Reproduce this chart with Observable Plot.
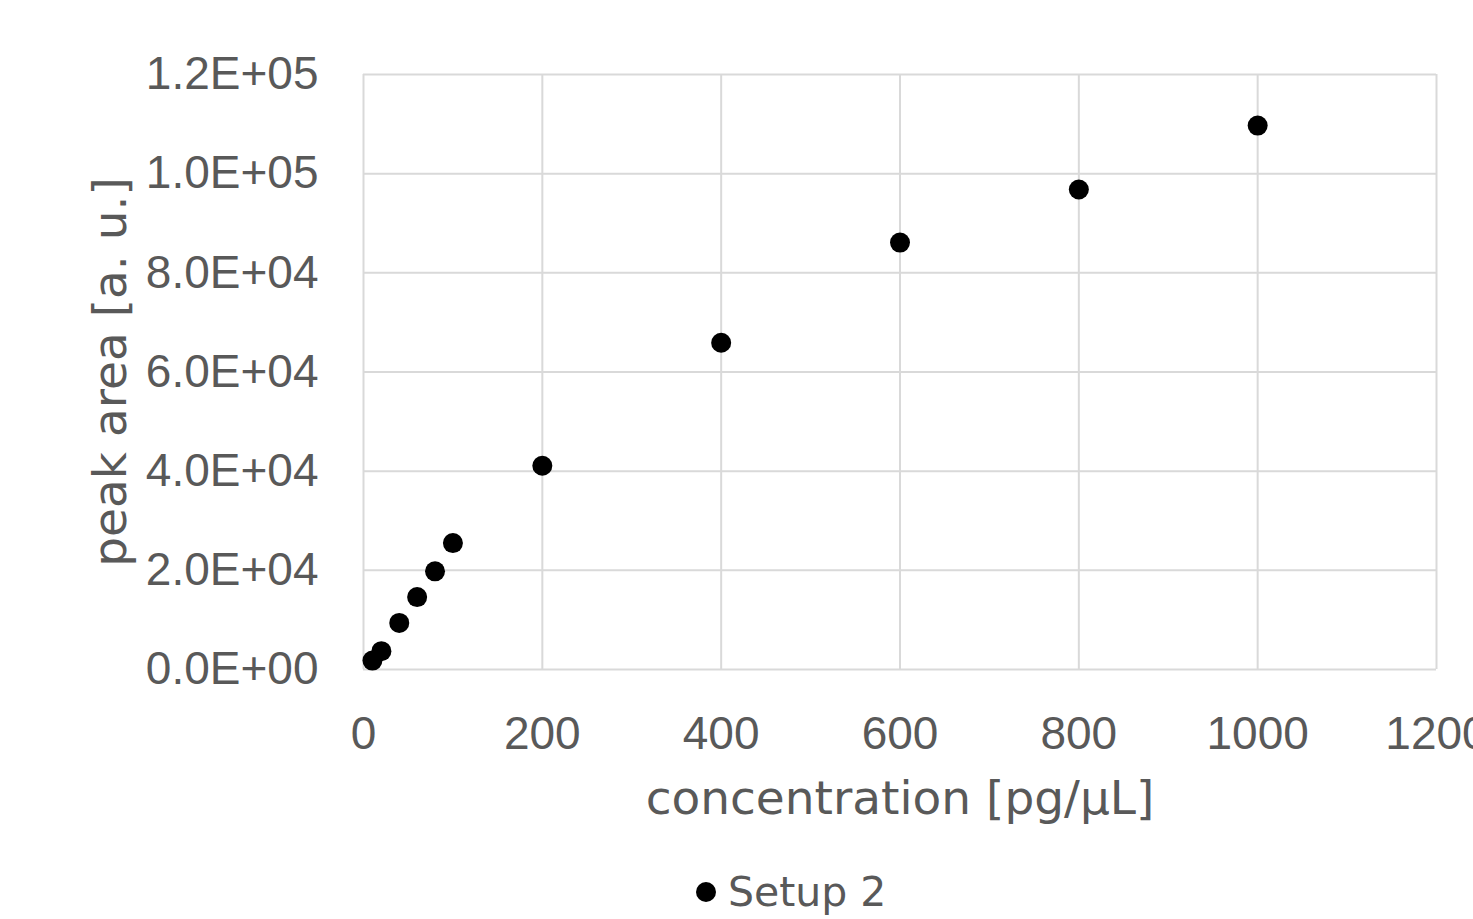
<!DOCTYPE html>
<html>
<head>
<meta charset="utf-8">
<script src="https://cdn.jsdelivr.net/npm/d3@7"></script>
<script src="https://cdn.jsdelivr.net/npm/@observablehq/plot@0.6"></script>
<style>
  html, body { margin: 0; padding: 0; background: #fff; overflow: hidden; width: 1473px; height: 919px; }
  #legend { height: 69px; position: relative; font-family: "DejaVu Sans", sans-serif; font-size: 41px; color: #595959; }
  #legend .item { position: absolute; left: 696px; top: 18px; display: flex; align-items: center; }
  #legend .sw { width: 20px; height: 20px; border-radius: 50%; background: #000; margin-right: 12px; }
</style>
</head>
<body>
<div id="chart"></div>
<div id="legend"><div class="item"><div class="sw"></div><span>Setup 2</span></div></div>
<script>
const concentration = [10, 20, 40, 60, 80, 100, 200, 400, 600, 800, 1000];
const peakArea = [1800, 3700, 9400, 14600, 19800, 25500, 41100, 65900, 86100, 96800, 109700];
const xTicks = [0, 200, 400, 600, 800, 1000, 1200];
const yTicks = [0, 20000, 40000, 60000, 80000, 100000, 120000];
const seriesName = "Setup 2";
const xLabel = "concentration [pg/μL]";
const yLabel = "peak area [a. u.]";

const data = concentration.map((c, i) => ({c, a: peakArea[i], s: seriesName}));

function sci(d) {
  const [m, e] = d.toExponential(1).split("e");
  const sign = e[0] === "-" ? "-" : "+";
  const digits = e.replace(/[+-]/, "").padStart(2, "0");
  return m + "E" + sign + digits;
}

const textColor = "#595959";
const gridColor = "#d9d9d9";

const plot = Plot.plot({
  width: 1473,
  height: 850,
  marginLeft: 363,
  marginRight: 37,
  marginTop: 74,
  marginBottom: 181,
  style: {fontFamily: "'Liberation Sans', Arial, sans-serif", fontSize: "46px", color: textColor, background: "#fff", overflow: "visible"},
  x: {domain: [0, 1200]},
  y: {domain: [0, 120000]},
  marks: [
    Plot.gridX(xTicks, {stroke: gridColor, strokeOpacity: 1, strokeWidth: 2}),
    Plot.gridY(yTicks, {stroke: gridColor, strokeOpacity: 1, strokeWidth: 2}),
    Plot.axisX(xTicks, {tickSize: 0, tickPadding: 47, label: null, tickFormat: d => String(d), fill: textColor, fontSize: 46}),
    Plot.axisY(yTicks, {tickSize: 0, tickPadding: 45, label: null, tickFormat: sci, fill: textColor, fontSize: 46}),
    Plot.dot(data, {x: "c", y: "a", r: 10, fill: "#000", stroke: null}),
    Plot.text([xLabel], {frameAnchor: "bottom", dy: 129, text: d => d, fill: textColor, fontSize: 47, fontFamily: "DejaVu Sans", lineAnchor: "middle"}),
    Plot.text([yLabel], {frameAnchor: "left", dx: -253, rotate: -90, textAnchor: "middle", text: d => d, fill: textColor, fontSize: 47, fontFamily: "DejaVu Sans", lineAnchor: "middle"})
  ]
});
document.getElementById("chart").appendChild(plot);
</script>
</body>
</html>
